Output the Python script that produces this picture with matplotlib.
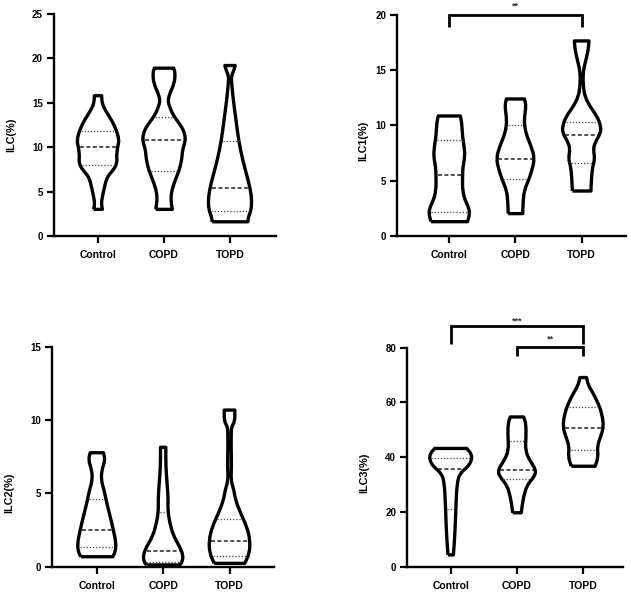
import matplotlib
matplotlib.use("Agg")
import matplotlib.pyplot as plt
import numpy as np
from matplotlib.path import Path
from matplotlib.patches import PathPatch

plt.rcParams['font.family'] = ['Liberation Sans', 'DejaVu Sans']
plt.rcParams['font.weight'] = 'bold'

groups = ["Control", "COPD", "TOPD"]

# violin outlines: (y value, half width in category units), bottom -> top
ilc_control = [(3.0, 0.066), (3.7, 0.05), (4.4, 0.066), (5.6, 0.10), (6.7, 0.14), (7.4, 0.23),
               (8.2, 0.29), (9.1, 0.28), (10.1, 0.30), (10.8, 0.32), (11.9, 0.28), (13.0, 0.21),
               (14.2, 0.106), (15.0, 0.06), (15.8, 0.055)]
ilc_copd = [(3.0, 0.126), (3.7, 0.11), (4.4, 0.106), (5.2, 0.12), (6.3, 0.17), (7.4, 0.23),
            (8.6, 0.27), (9.7, 0.28), (10.6, 0.32), (11.4, 0.32), (12.3, 0.27), (13.5, 0.146),
            (14.6, 0.08), (15.3, 0.06), (16.1, 0.09), (17.2, 0.157), (18.35, 0.17), (18.9, 0.146)]
ilc_topd = [(1.6, 0.27), (2.2, 0.28), (2.9, 0.32), (4.0, 0.33), (5.2, 0.31), (6.7, 0.26),
            (8.6, 0.19), (10.8, 0.13), (13.1, 0.09), (15.3, 0.05), (17.2, 0.025), (18.0, 0.02),
            (18.7, 0.06), (19.2, 0.078)]
ilc_median = [10.0, 10.8, 5.4]
ilc_q1 = [8.0, 7.3, 2.8]
ilc_q3 = [11.8, 13.4, 10.7]

ilc1_control = [(1.27, 0.276), (2.0, 0.31), (2.6, 0.29), (3.2, 0.24), (4.1, 0.2), (5.35, 0.2),
                (6.25, 0.206), (7.16, 0.236), (8.06, 0.226), (8.97, 0.2), (10.2, 0.19), (10.85, 0.166)]
ilc1_copd = [(2.0, 0.11), (3.2, 0.116), (4.14, 0.136), (5.05, 0.2), (5.96, 0.25), (7.0, 0.29),
             (8.06, 0.24), (8.97, 0.176), (9.89, 0.136), (10.8, 0.136), (11.7, 0.16), (12.39, 0.138)]
ilc1_topd = [(4.05, 0.14), (5.35, 0.15), (6.25, 0.166), (7.0, 0.2), (7.8, 0.176), (8.4, 0.2),
             (9.3, 0.286), (9.9, 0.29), (10.8, 0.236), (11.7, 0.126), (12.6, 0.05), (13.5, 0.025),
             (14.7, 0.02), (15.6, 0.05), (16.8, 0.1), (17.65, 0.11)]
ilc1_median = [5.5, 6.95, 9.16]
ilc1_q1 = [2.15, 5.17, 6.56]
ilc1_q3 = [8.7, 10.0, 10.28]

ilc2_control = [(0.68, 0.24), (1.03, 0.28), (1.6, 0.29), (2.28, 0.26), (2.96, 0.227), (3.87, 0.177),
                (4.55, 0.14), (5.23, 0.11), (5.9, 0.066), (6.6, 0.076), (7.27, 0.126), (7.77, 0.10)]
ilc2_copd = [(0.12, 0.25), (0.34, 0.29), (0.8, 0.3), (1.37, 0.25), (2.05, 0.16), (2.96, 0.1),
             (3.87, 0.07), (4.55, 0.076), (5.68, 0.06), (6.82, 0.04), (8.14, 0.04)]
ilc2_topd = [(0.23, 0.23), (0.91, 0.3), (1.82, 0.31), (2.73, 0.26), (3.64, 0.167), (4.55, 0.09),
             (5.23, 0.066), (5.9, 0.02), (6.82, 0.03), (7.95, 0.025), (9.09, 0.025), (9.54, 0.03),
             (9.9, 0.08), (10.68, 0.08)]
ilc2_median = [2.5, 1.1, 1.78]
ilc2_q1 = [1.32, 0.34, 0.73]
ilc2_q3 = [4.62, 3.75, 3.23]

ilc3_control = [(4.3, 0.04), (7.3, 0.05), (11.0, 0.06), (15.8, 0.07), (23.1, 0.08), (30.4, 0.096),
                (34.1, 0.136), (36.5, 0.26), (39.0, 0.32), (41.4, 0.31), (43.2, 0.24)]
ilc3_copd = [(19.7, 0.065), (21.9, 0.076), (25.5, 0.1), (29.8, 0.15), (32.8, 0.26), (35.3, 0.29),
             (38.9, 0.19), (42.5, 0.126), (47.4, 0.136), (52.3, 0.136), (54.7, 0.1)]
ilc3_topd = [(36.7, 0.18), (40.1, 0.227), (43.8, 0.21), (47.4, 0.26), (51.1, 0.31), (56.0, 0.28),
             (59.6, 0.227), (63.3, 0.15), (66.3, 0.076), (69.1, 0.05)]
ilc3_median = [35.8, 35.5, 50.7]
ilc3_q1 = [20.9, 32.2, 42.8]
ilc3_q3 = [39.8, 45.9, 58.4]

ylabels = ["ILC(%)", "ILC1(%)", "ILC2(%)", "ILC3(%)"]
yticks_list = [[0, 5, 10, 15, 20, 25], [0, 5, 10, 15, 20], [0, 5, 10, 15], [0, 20, 40, 60, 80]]

# significance brackets: (group a, group b, y top, y leg end, y text, label)
sig_ilc1 = [(0, 2, 20.0, 18.95, 20.8, "**")]
sig_ilc3 = [(0, 2, 87.8, 81.5, 89.6, "***"), (1, 2, 80.3, 76.9, 83.2, "**")]

W, H = 631, 599
fig = plt.figure(figsize=(W / 100, H / 100), dpi=100)


def axes_px(l, t, r, b):
    return fig.add_axes([l / W, 1 - b / H, (r - l) / W, (b - t) / H])


def draw_violin(ax, pos, prof):
    left = [(pos - w, y) for y, w in prof]
    right = [(pos + w, y) for y, w in prof][::-1]
    pts = [left[0]] + left + [left[-1], right[0]] + right + [right[-1]]
    n = len(pts)
    mids = [((pts[k][0] + pts[(k + 1) % n][0]) / 2, (pts[k][1] + pts[(k + 1) % n][1]) / 2) for k in range(n)]
    verts = [mids[0]]
    codes = [Path.MOVETO]
    for k in range(1, n + 1):
        verts += [pts[k % n], mids[k % n]]
        codes += [Path.CURVE3, Path.CURVE3]
    patch = PathPatch(Path(verts, codes), facecolor='white', edgecolor='black', lw=2.4,
                      joinstyle='round', zorder=3)
    ax.add_patch(patch)


def qline(ax, pos, prof, y, style, lw, color):
    ys = [p[0] for p in prof]
    ws = [p[1] for p in prof]
    hw = np.interp(y, ys, ws) - 0.025
    ax.plot([pos - hw, pos + hw], [y, y], color=color, lw=lw, linestyle=style, zorder=4,
            solid_capstyle='butt', dash_capstyle='butt')


def setup(ax, ylim, yticks, xlim, ylabel, lab_xy):
    ax.set_xlim(*xlim)
    ax.set_ylim(*ylim)
    for s in ['top', 'right']:
        ax.spines[s].set_visible(False)
    for s in ['left', 'bottom']:
        ax.spines[s].set_linewidth(1.7)
    ax.set_yticks(yticks)
    ax.set_xticks(range(len(groups)))
    ax.set_xticklabels(groups, fontsize=7.5, fontweight='bold')
    ax.tick_params(axis='y', length=5, width=1.6, labelsize=7, pad=3)
    ax.tick_params(axis='x', length=5, width=1.6, labelsize=7.5, pad=5)
    for t in ax.get_yticklabels():
        t.set_fontweight('bold')
    ax.set_ylabel(ylabel, fontsize=7.8, fontweight='bold')
    ax.yaxis.set_label_coords(*lab_xy)


def panel(ax, profs, med, q1, q3):
    for i, prof in enumerate(profs):
        draw_violin(ax, i, prof)
        qline(ax, i, prof, med[i], (0, (2.6, 1.6)), 1.1, '#222222')
        qline(ax, i, prof, q1[i], (0, (1.0, 1.5)), 0.9, '#444444')
        qline(ax, i, prof, q3[i], (0, (1.0, 1.5)), 0.9, '#444444')


def brackets(ax, sigs):
    for a, b, ytop, yleg, ytxt, lab in sigs:
        ax.plot([a, a, b, b], [yleg, ytop, ytop, yleg], color='black', lw=2.0, clip_on=False,
                solid_joinstyle='miter', solid_capstyle='butt', zorder=5)
        ax.text((a + b) / 2, ytxt, lab, ha='center', va='center', fontsize=6.5,
                fontweight='bold', color='#333333', clip_on=False)


ax1 = axes_px(54, 14, 276, 236)
setup(ax1, (0, 25), yticks_list[0], (-0.667, 2.697), ylabels[0], (-0.172, 0.455))
panel(ax1, [ilc_control, ilc_copd, ilc_topd], ilc_median, ilc_q1, ilc_q3)

ax2 = axes_px(397.3, 15, 626, 235.7)
setup(ax2, (0, 20), yticks_list[1], (-0.785, 2.67), ylabels[1], (-0.125, 0.43))
panel(ax2, [ilc1_control, ilc1_copd, ilc1_topd], ilc1_median, ilc1_q1, ilc1_q3)
brackets(ax2, sig_ilc1)

ax3 = axes_px(52.3, 346.7, 274, 566.7)
setup(ax3, (0, 15), yticks_list[2], (-0.67, 2.67), ylabels[2], (-0.172, 0.336))
panel(ax3, [ilc2_control, ilc2_copd, ilc2_topd], ilc2_median, ilc2_q1, ilc2_q3)

ax4 = axes_px(407.3, 347.7, 623, 566.7)
setup(ax4, (0, 80), yticks_list[3], (-0.655, 2.6), ylabels[3], (-0.178, 0.43))
panel(ax4, [ilc3_control, ilc3_copd, ilc3_topd], ilc3_median, ilc3_q1, ilc3_q3)
brackets(ax4, sig_ilc3)

fig.savefig("out.png", dpi=100)
